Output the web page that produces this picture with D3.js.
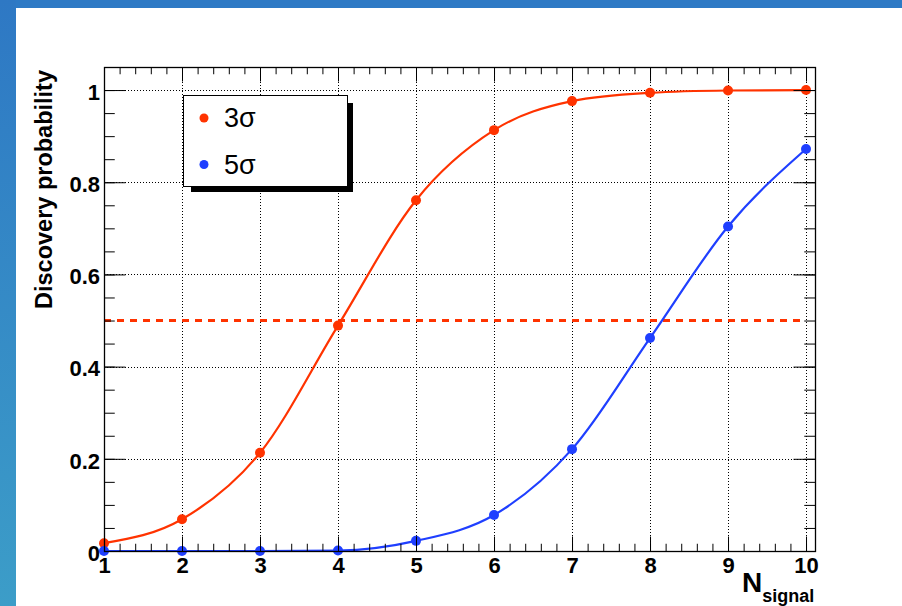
<!DOCTYPE html>
<html>
<head>
<meta charset="utf-8">
<script src="https://cdn.jsdelivr.net/npm/d3@7"></script>
<style>
  html, body { margin: 0; padding: 0; background: #ffffff; }
  svg { display: block; }
  text { font-family: "Liberation Sans", Arial, Helvetica, sans-serif; }
</style>
</head>
<body>
<svg id="chart" width="902" height="606"></svg>
<script>
// Number of signal events
const nSignal = [1, 2, 3, 4, 5, 6, 7, 8, 9, 10];
// Discovery probability at 3 sigma and 5 sigma
const prob3sigma = [0.017, 0.069, 0.213, 0.489, 0.761, 0.913, 0.976, 0.994, 0.999, 1.0];
const prob5sigma = [0.0, 0.0, 0.0, 0.001, 0.022, 0.078, 0.221, 0.462, 0.704, 0.872];
// Axis ticks and labels
const xTicks = [1, 2, 3, 4, 5, 6, 7, 8, 9, 10];
const xTickLabels = ["1", "2", "3", "4", "5", "6", "7", "8", "9", "10"];
const yTicks = [0, 0.2, 0.4, 0.6, 0.8, 1.0];
const yTickLabels = ["0", "0.2", "0.4", "0.6", "0.8", "1"];
const threshold = 0.5;
const seriesNames = ["3\u03C3", "5\u03C3"];

const svg = d3.select("#chart");
const W = 902, H = 606;
const red = "#ff3300", blue = "#1f3fff";

// Slide-style blue bands on top and left
const defs = svg.append("defs");
const grad = defs.append("linearGradient").attr("id", "leftBand")
  .attr("x1", 0).attr("y1", 0).attr("x2", 0).attr("y2", 1);
grad.append("stop").attr("offset", "0%").attr("stop-color", "#2e78c4");
grad.append("stop").attr("offset", "100%").attr("stop-color", "#3c9dc8");
svg.append("rect").attr("x", 0).attr("y", 0).attr("width", W).attr("height", H).attr("fill", "#ffffff");
svg.append("rect").attr("x", 0).attr("y", 0).attr("width", W).attr("height", 8).attr("fill", "#2e7ac5");
svg.append("rect").attr("x", 0).attr("y", 0).attr("width", 16).attr("height", H).attr("fill", "url(#leftBand)");

// Scales (frame spans slightly past the last point on x, to 1.05 on y)
const x = d3.scaleLinear().domain([1, 10.115]).range([104, 815]);
const y = d3.scaleLinear().domain([0, 1.05]).range([551, 67]);
const [x0, x1] = x.range();
const [y0, y1] = y.range();

// Dotted grid at major ticks
const grid = svg.append("g").attr("stroke", "#000").attr("stroke-width", 1)
  .attr("stroke-dasharray", "1,2");
grid.selectAll("line.gx").data(xTicks.filter(d => d > 1)).join("line")
  .attr("x1", d => Math.round(x(d)) + 0.5).attr("x2", d => Math.round(x(d)) + 0.5)
  .attr("y1", y1).attr("y2", y0);
grid.selectAll("line.gy").data(yTicks.filter(d => d > 0)).join("line")
  .attr("x1", x0).attr("x2", x1)
  .attr("y1", d => Math.round(y(d)) + 0.5).attr("y2", d => Math.round(y(d)) + 0.5);

// 50% threshold
svg.append("line")
  .attr("x1", x(1)).attr("x2", x(10))
  .attr("y1", y(threshold)).attr("y2", y(threshold))
  .attr("stroke", red).attr("stroke-width", 3).attr("stroke-dasharray", "7,6");

// Smooth curves through the points
const series = [
  { name: seriesNames[0], values: prob3sigma, color: red },
  { name: seriesNames[1], values: prob5sigma, color: blue }
];
const line = d3.line().x(d => x(d[0])).y(d => y(d[1])).curve(d3.curveMonotoneX);
series.forEach(s => {
  const pts = nSignal.map((n, i) => [n, s.values[i]]);
  svg.append("path").datum(pts)
    .attr("fill", "none").attr("stroke", s.color).attr("stroke-width", 2.2)
    .attr("d", line);
  svg.append("g").selectAll("circle").data(pts).join("circle")
    .attr("cx", d => x(d[0])).attr("cy", d => y(d[1])).attr("r", 5)
    .attr("fill", s.color);
});

// Axes: ticks drawn inward on all four sides
const xMinor = d3.range(10, 101, 2).map(v => v / 10).filter(v => v <= 10.115);
const yMinor = d3.range(0, 106, 5).map(v => v / 100);
const tickLenX = 14.5, tickLenY = 21.5;

function styleAxis(g) {
  g.select(".domain").remove();
  g.selectAll(".tick line").attr("stroke", "#000").attr("stroke-width", 1);
  g.selectAll("text").attr("fill", "#000").attr("font-weight", "bold").attr("font-size", 22);
}

// bottom
svg.append("g").attr("transform", `translate(0,${y0})`)
  .call(d3.axisBottom(x).tickValues(xMinor).tickSize(-tickLenX / 2).tickFormat(""))
  .call(styleAxis);
svg.append("g").attr("transform", `translate(0,${y0})`)
  .call(d3.axisBottom(x).tickValues(xTicks).tickSize(-tickLenX).tickPadding(6)
    .tickFormat((d, i) => xTickLabels[i]))
  .call(styleAxis);
// top
svg.append("g").attr("transform", `translate(0,${y1})`)
  .call(d3.axisTop(x).tickValues(xMinor).tickSize(-tickLenX / 2).tickFormat(""))
  .call(styleAxis);
svg.append("g").attr("transform", `translate(0,${y1})`)
  .call(d3.axisTop(x).tickValues(xTicks).tickSize(-tickLenX).tickFormat(""))
  .call(styleAxis);
// left
svg.append("g").attr("transform", `translate(${x0},0)`)
  .call(d3.axisLeft(y).tickValues(yMinor).tickSize(-tickLenY / 2).tickFormat(""))
  .call(styleAxis);
const yAxisG = svg.append("g").attr("transform", `translate(${x0},0)`)
  .call(d3.axisLeft(y).tickValues(yTicks).tickSize(-tickLenY).tickPadding(4)
    .tickFormat((d, i) => yTickLabels[i]))
  .call(styleAxis);
yAxisG.selectAll("text").attr("dy", "0.42em");
// right
svg.append("g").attr("transform", `translate(${x1},0)`)
  .call(d3.axisRight(y).tickValues(yMinor).tickSize(-tickLenY / 2).tickFormat(""))
  .call(styleAxis);
svg.append("g").attr("transform", `translate(${x1},0)`)
  .call(d3.axisRight(y).tickValues(yTicks).tickSize(-tickLenY).tickFormat(""))
  .call(styleAxis);

// Frame
svg.append("rect")
  .attr("x", x0 + 0.5).attr("y", y1 + 0.5)
  .attr("width", x1 - x0).attr("height", y0 - y1)
  .attr("fill", "none").attr("stroke", "#000").attr("stroke-width", 1.3);

// Axis titles
svg.append("text")
  .attr("transform", `translate(52,70) rotate(-90)`)
  .attr("text-anchor", "end")
  .attr("font-weight", "bold").attr("font-size", 23.5)
  .text("Discovery probability");

const xt = svg.append("text").attr("x", 742).attr("y", 592)
  .attr("font-weight", "bold").attr("font-size", 28);
xt.append("tspan").text("N");
xt.append("tspan").attr("font-size", 18).attr("dy", 10).text("signal");

// Legend with drop shadow
const lg = svg.append("g");
lg.append("rect").attr("x", 191).attr("y", 103).attr("width", 162).attr("height", 89).attr("fill", "#000");
lg.append("rect").attr("x", 183.5).attr("y", 95.5).attr("width", 164).attr("height", 91)
  .attr("fill", "#fff").attr("stroke", "#000").attr("stroke-width", 1);
const legendRows = lg.selectAll("g.row").data(series).join("g")
  .attr("transform", (d, i) => `translate(0,${i * 46.5})`);
legendRows.append("circle").attr("cx", 204).attr("cy", 118).attr("r", 4.5).attr("fill", d => d.color);
legendRows.append("text").attr("x", 224).attr("y", 127)
  .attr("font-size", 27).attr("fill", "#000").text(d => d.name);
</script>
</body>
</html>
